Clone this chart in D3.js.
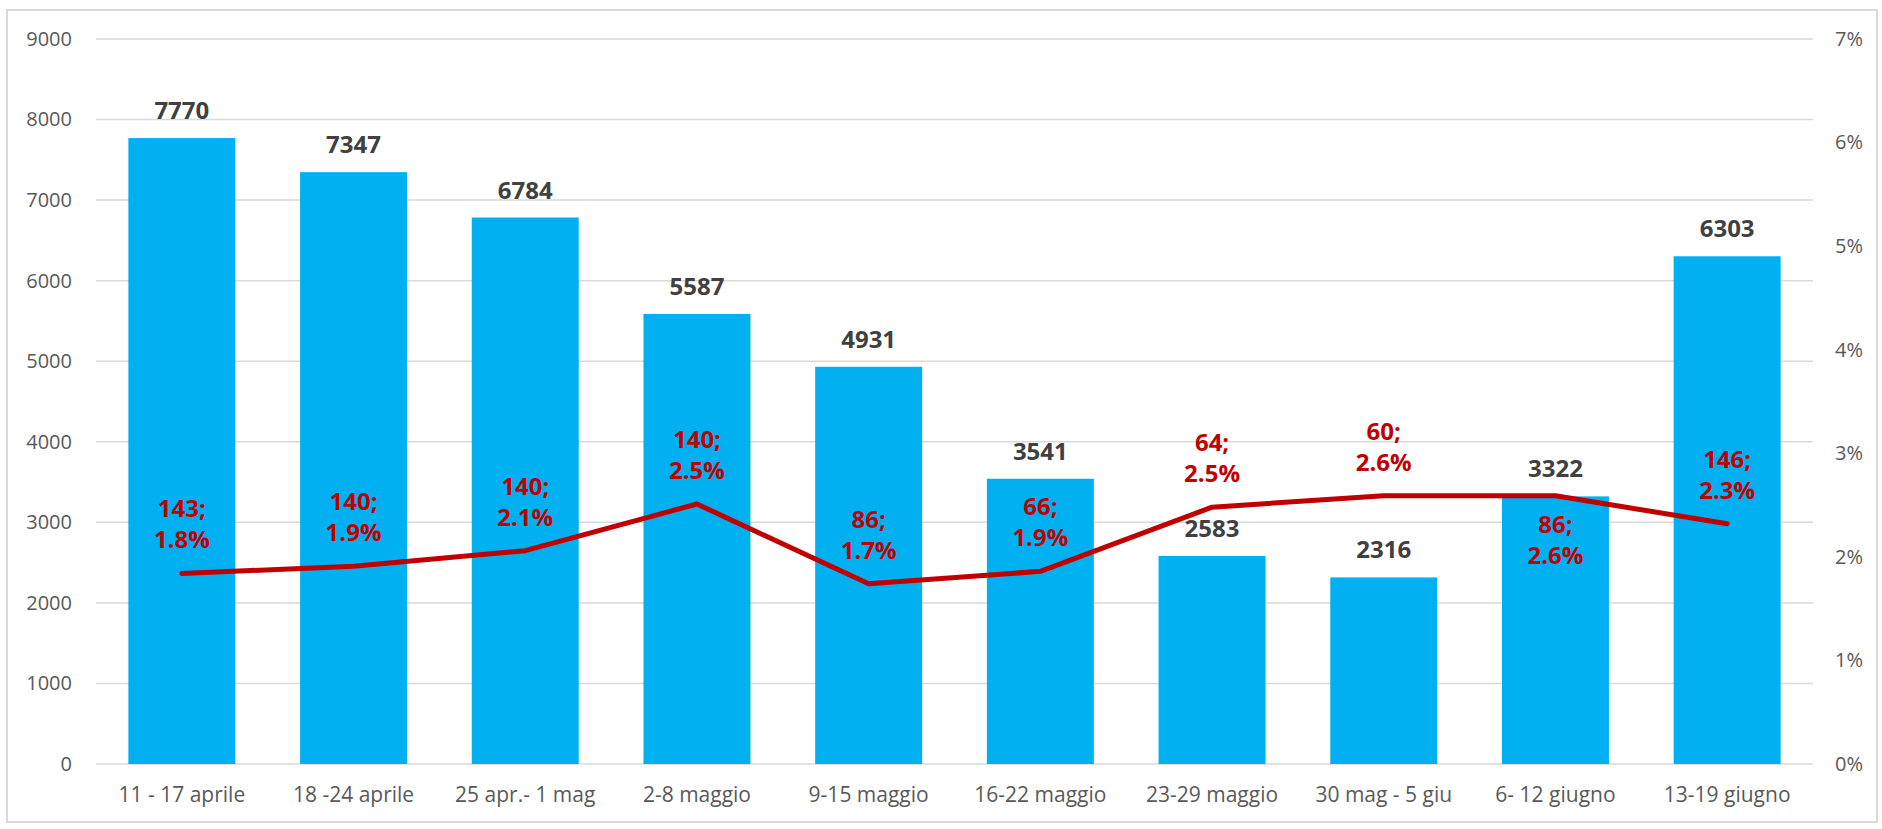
<!DOCTYPE html>
<html>
<head>
<meta charset="utf-8">
<script src="https://cdnjs.cloudflare.com/ajax/libs/d3/7.8.5/d3.min.js"></script>
<style>
  body { margin: 0; background: #fff; }
  svg text { font-family: "Open Sans", "Noto Sans", sans-serif; }
</style>
</head>
<body>
<svg id="svg1" width="1882" height="829"></svg>
<script>
var weeks = ["11 - 17 aprile", "18 -24 aprile", "25 apr.- 1 mag", "2-8 maggio", "9-15 maggio",
             "16-22 maggio", "23-29 maggio", "30 mag - 5 giu", "6- 12 giugno", "13-19 giugno"];
var cases = [7770, 7347, 6784, 5587, 4931, 3541, 2583, 2316, 3322, 6303];
var deaths = [143, 140, 140, 140, 86, 66, 64, 60, 86, 146];
var pct = [1.84, 1.91, 2.06, 2.51, 1.74, 1.86, 2.48, 2.59, 2.59, 2.32];
var leftTicks = [0, 1000, 2000, 3000, 4000, 5000, 6000, 7000, 8000, 9000];
var rightTicks = [0, 1, 2, 3, 4, 5, 6, 7];

var width = 1882;
var height = 829;

var marginLeft = 96;
var marginRight = width - 1813;
var marginTop = 39;
var plotBottom = 764;

var svg = d3.select('#svg1');

// frame
svg.append('rect')
    .attr('x', 7).attr('y', 10)
    .attr('width', 1870).attr('height', 812)
    .attr('fill', 'none')
    .attr('stroke', '#d9d9d9')
    .attr('stroke-width', 2);

var scaleX = d3.scaleBand()
    .domain(weeks)
    .range([marginLeft, width - marginRight])
    .paddingInner(0.377)
    .paddingOuter(0.1885);

var scaleY = d3.scaleLinear().domain([0, 9000]).range([plotBottom, marginTop]);
var scaleY2 = d3.scaleLinear().domain([0, 7]).range([plotBottom, marginTop]);

// gridlines
svg.append('g')
    .selectAll('line')
    .data(leftTicks)
    .enter()
    .append('line')
    .attr('x1', marginLeft)
    .attr('x2', width - marginRight)
    .attr('y1', function (d) { return scaleY(d); })
    .attr('y2', function (d) { return scaleY(d); })
    .attr('stroke', '#d9d9d9')
    .attr('stroke-width', 1.5);

// left axis
var leftAxis = svg.append('g')
    .attr('transform', 'translate(' + (marginLeft - 24) + ',0)')
    .call(d3.axisLeft(scaleY).tickValues(leftTicks).tickSize(0).tickPadding(0)
        .tickFormat(d3.format('d')));
leftAxis.select('.domain').remove();
leftAxis.selectAll('text')
    .attr('fill', '#595959')
    .style('font-size', '20px');

// right axis
var rightAxis = svg.append('g')
    .attr('transform', 'translate(' + 1835 + ',0)')
    .call(d3.axisRight(scaleY2).tickValues(rightTicks).tickSize(0).tickPadding(0)
        .tickFormat(function (d) { return d + '%'; }));
rightAxis.select('.domain').remove();
rightAxis.selectAll('text')
    .attr('fill', '#595959')
    .style('font-size', '20px');

// bottom axis
var bottomAxis = svg.append('g')
    .attr('transform', 'translate(0,' + plotBottom + ')')
    .call(d3.axisBottom(scaleX).tickSize(0).tickPadding(23));
bottomAxis.select('.domain').remove();
bottomAxis.selectAll('text')
    .attr('fill', '#595959')
    .style('font-size', '21px');

// bars
svg.append('g')
    .selectAll('rect')
    .data(cases)
    .enter()
    .append('rect')
    .attr('x', function (d, i) { return scaleX(weeks[i]); })
    .attr('y', function (d) { return scaleY(d); })
    .attr('width', scaleX.bandwidth())
    .attr('height', function (d) { return plotBottom - scaleY(d); })
    .attr('fill', '#00b0f0');

// bar labels
svg.append('g')
    .selectAll('text')
    .data(cases)
    .enter()
    .append('text')
    .attr('x', function (d, i) { return scaleX(weeks[i]) + scaleX.bandwidth() / 2; })
    .attr('y', function (d) { return scaleY(d) - 19; })
    .attr('text-anchor', 'middle')
    .attr('fill', '#404040')
    .style('font-size', '24px')
    .style('font-weight', 'bold')
    .text(function (d) { return d; });

// line
var line = d3.line()
    .x(function (d, i) { return scaleX(weeks[i]) + scaleX.bandwidth() / 2; })
    .y(function (d) { return scaleY2(d); });

svg.append('path')
    .datum(pct)
    .attr('d', line)
    .attr('fill', 'none')
    .attr('stroke', '#c00000')
    .attr('stroke-width', 5)
    .attr('stroke-linecap', 'round')
    .attr('stroke-linejoin', 'round');

// line labels (one of them sits below the point)
var below = [8];
var fmt = d3.format('.1f');
var lbl = svg.append('g')
    .selectAll('text')
    .data(pct)
    .enter()
    .append('text')
    .attr('text-anchor', 'middle')
    .attr('fill', '#c00000')
    .style('font-size', '24px')
    .style('font-weight', 'bold')
    .attr('transform', function (d, i) {
        var x = scaleX(weeks[i]) + scaleX.bandwidth() / 2;
        var y = below.indexOf(i) >= 0 ? scaleY2(d) + 37 : scaleY2(d) - 56;
        return 'translate(' + x + ',' + y + ')';
    });
lbl.append('tspan')
    .attr('x', 0).attr('y', 0)
    .text(function (d, i) { return deaths[i] + ';'; });
lbl.append('tspan')
    .attr('x', 0).attr('y', 31)
    .text(function (d) { return fmt(d) + '%'; });
</script>
</body>
</html>
